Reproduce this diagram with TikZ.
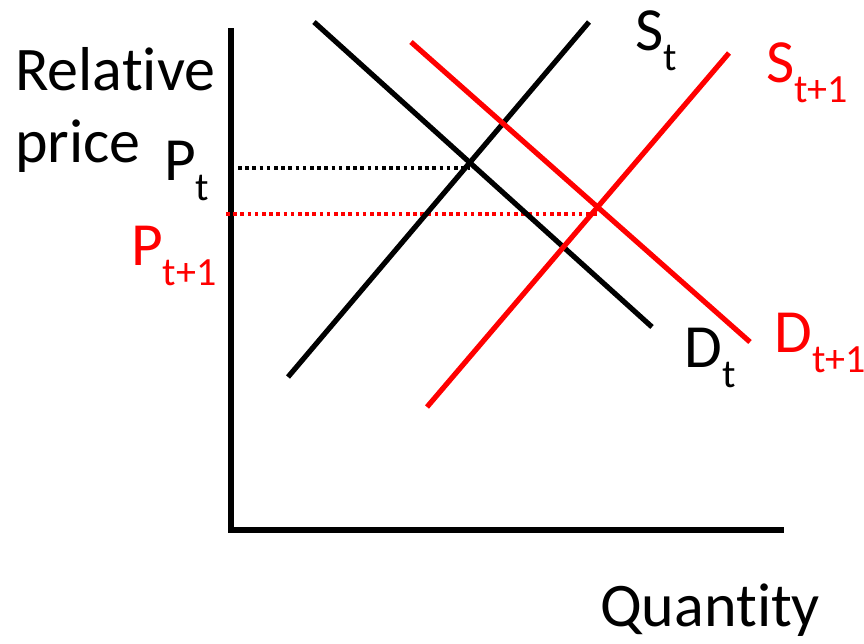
\documentclass[tikz,border=0pt]{standalone}
\usepackage{fontspec}
\setmainfont[Ligatures=NoCommon]{Carlito}
\newcommand\mylbl[2]{#1\lower15pt\hbox{\fontsize{30}{36}\selectfont #2}}
\begin{document}
\begin{tikzpicture}[x=0.75pt,y=-0.75pt,
  lbl/.style={anchor=base west,inner sep=0pt,font=\fontsize{46}{55}\selectfont},
  big/.style={anchor=base west,inner sep=0pt,font=\fontsize{46.5}{56}\selectfont},
  curve/.style={line width=3.9pt},
  axis/.style={line width=4.2pt},
  guide/.style={line width=2.3pt,dash pattern=on 2.7pt off 2.7pt}]
\useasboundingbox (0,0) rectangle (864,643);
% axes
\coordinate (ytop) at (231,28);
\coordinate (origin) at (231,530);
\coordinate (xend) at (784,530);
\draw[axis] (ytop) -- (origin) -- (xend);
% curves
\coordinate (st1) at (288,377); \coordinate (st2) at (589,22);
\coordinate (dt1) at (314,22);  \coordinate (dt2) at (652,327);
\coordinate (sn1) at (427,407); \coordinate (sn2) at (729,53);
\coordinate (dn1) at (411,42);  \coordinate (dn2) at (750,342);
% dotted guides
\coordinate (pt0) at (238,168); \coordinate (pt1) at (470,168);
\coordinate (pn0) at (226,214); \coordinate (pn1) at (598,214);
\draw[guide,black] (pt0) -- (pt1);
\draw[guide,red] (pn0) -- (pn1);
\draw[curve,black] (st1) -- (st2);
\draw[curve,black] (dt1) -- (dt2);
\draw[curve,red] (sn1) -- (sn2);
\draw[curve,red] (dn1) -- (dn2);
% labels
\node[big] (rel) at (15,90) {Relative};
\node[big] (pri) at (15,162) {price};
\node[lbl] (Pt) at (164,180) {\mylbl{P}{t}};
\node[lbl,text=red] (Pn) at (131,265) {\mylbl{P}{t+1}};
\node[lbl] (St) at (635,50) {\mylbl{S}{t}};
\node[lbl,text=red] (Sn) at (766,82) {\mylbl{S}{t+1}};
\node[lbl] (Dt) at (684,367) {\mylbl{D}{t}};
\node[lbl,text=red] (Dn) at (774,352) {\mylbl{D}{t+1}};
\node[big] (qty) at (600,626) {Quantity};
\end{tikzpicture}
\end{document}
